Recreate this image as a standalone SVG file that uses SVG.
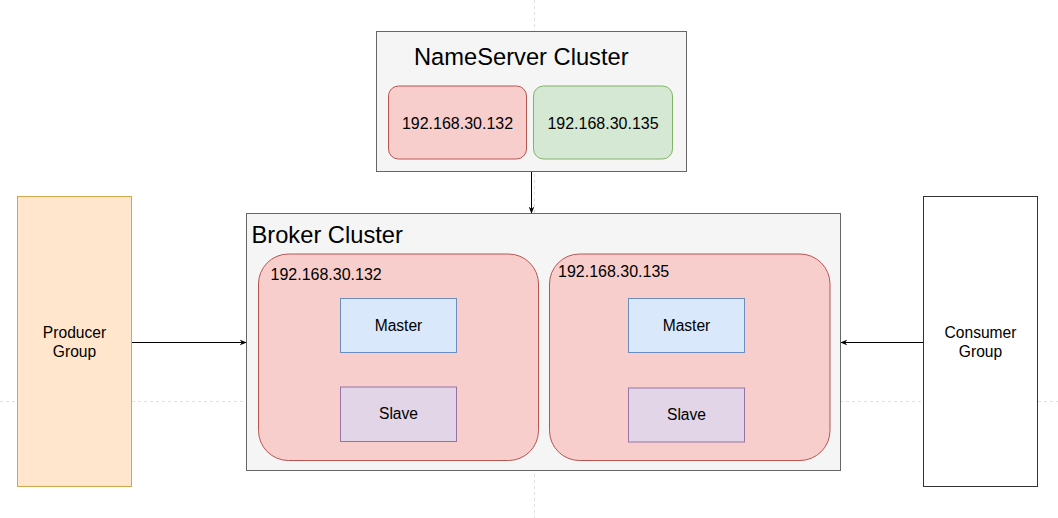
<svg xmlns="http://www.w3.org/2000/svg" width="1058" height="518" viewBox="0 0 1058 518">
<style>
  .t { font-family: "Liberation Sans", Arial, sans-serif; fill: #000; }
  .title { font-size: 23.7px; }
  .ip { font-size: 16px; }
  .lbl { font-size: 15.6px; }
  .grid { stroke: #e0e0e0; stroke-width: 1; stroke-dasharray: 3 3; fill: none; }
  .cluster { fill: #f5f5f5; stroke: #666666; stroke-width: 1; }
  .red { fill: #f8cecc; stroke: #b85450; stroke-width: 1; }
  .green { fill: #d5e8d4; stroke: #82b366; stroke-width: 1; }
  .master { fill: #dae8fc; stroke: #6c8ebf; stroke-width: 1; }
  .slave { fill: #e1d5e7; stroke: #9673a6; stroke-width: 1; }
  .edge { stroke: #000; stroke-width: 1; fill: none; }
</style>
<defs>
  <marker id="arrow" viewBox="0 0 10 10" refX="9" refY="5" markerWidth="7" markerHeight="7" orient="auto" markerUnits="userSpaceOnUse">
    <path d="M0,1 L10,5 L0,9 L3,5 Z" fill="#000"/>
  </marker>
</defs>
<rect x="0" y="0" width="1058" height="518" fill="#ffffff"/>
<g id="page-grid">
  <line class="grid" x1="534.5" y1="0" x2="534.5" y2="518"/>
  <line class="grid" x1="0" y1="401.5" x2="1058" y2="401.5"/>
</g>
<g id="nameserver-cluster">
  <rect class="cluster" x="376.5" y="31.5" width="310" height="140"/>
  <text class="t title" x="414" y="65">NameServer Cluster</text>
</g>
<g id="ns-132">
  <rect class="red" x="388.5" y="86" width="138" height="73" rx="10" ry="10"/>
  <text class="t ip" x="457.5" y="128.5" text-anchor="middle">192.168.30.132</text>
</g>
<g id="ns-135">
  <rect class="green" x="533.5" y="86" width="139" height="73" rx="10" ry="10"/>
  <text class="t ip" x="603" y="128.5" text-anchor="middle">192.168.30.135</text>
</g>
<g id="broker-cluster">
  <rect class="cluster" x="246.5" y="213.5" width="594" height="257"/>
  <text class="t title" x="251.5" y="242.5">Broker Cluster</text>
</g>
<g id="broker-132">
  <rect class="red" x="258.5" y="254" width="280" height="206.5" rx="30" ry="30"/>
  <text class="t ip" x="270.5" y="280">192.168.30.132</text>
</g>
<g id="master-132">
  <rect class="master" x="340.5" y="298.5" width="116" height="54"/>
  <text class="t lbl" x="398.5" y="330.5" text-anchor="middle">Master</text>
</g>
<g id="slave-132">
  <rect class="slave" x="340.5" y="387" width="116" height="54.5"/>
  <text class="t lbl" x="398.5" y="419" text-anchor="middle">Slave</text>
</g>
<g id="broker-135">
  <rect class="red" x="549.5" y="254" width="280.5" height="206.5" rx="30" ry="30"/>
  <text class="t ip" x="558" y="276.5">192.168.30.135</text>
</g>
<g id="master-135">
  <rect class="master" x="628.5" y="298.5" width="116" height="54"/>
  <text class="t lbl" x="686.5" y="330.5" text-anchor="middle">Master</text>
</g>
<g id="slave-135">
  <rect class="slave" x="628.5" y="388" width="116" height="54"/>
  <text class="t lbl" x="686.5" y="420" text-anchor="middle">Slave</text>
</g>
<g id="producer-group">
  <rect x="17.5" y="196.5" width="114" height="290" fill="#ffe6cc" stroke="#d6a64a" stroke-width="1"/>
  <text class="t lbl" x="74.5" y="337.5" text-anchor="middle">Producer</text>
  <text class="t lbl" x="74.5" y="356.5" text-anchor="middle">Group</text>
</g>
<g id="consumer-group">
  <rect x="923.5" y="196.5" width="114" height="290" fill="#ffffff" stroke="#333333" stroke-width="1"/>
  <text class="t lbl" x="980.5" y="337.5" text-anchor="middle">Consumer</text>
  <text class="t lbl" x="980.5" y="356.5" text-anchor="middle">Group</text>
</g>
<g id="connectors">
  <line class="edge" x1="531.5" y1="172" x2="531.5" y2="213" marker-end="url(#arrow)"/>
  <line class="edge" x1="132" y1="342.5" x2="246" y2="342.5" marker-end="url(#arrow)"/>
  <line class="edge" x1="923" y1="342.5" x2="841" y2="342.5" marker-end="url(#arrow)"/>
</g>
</svg>
